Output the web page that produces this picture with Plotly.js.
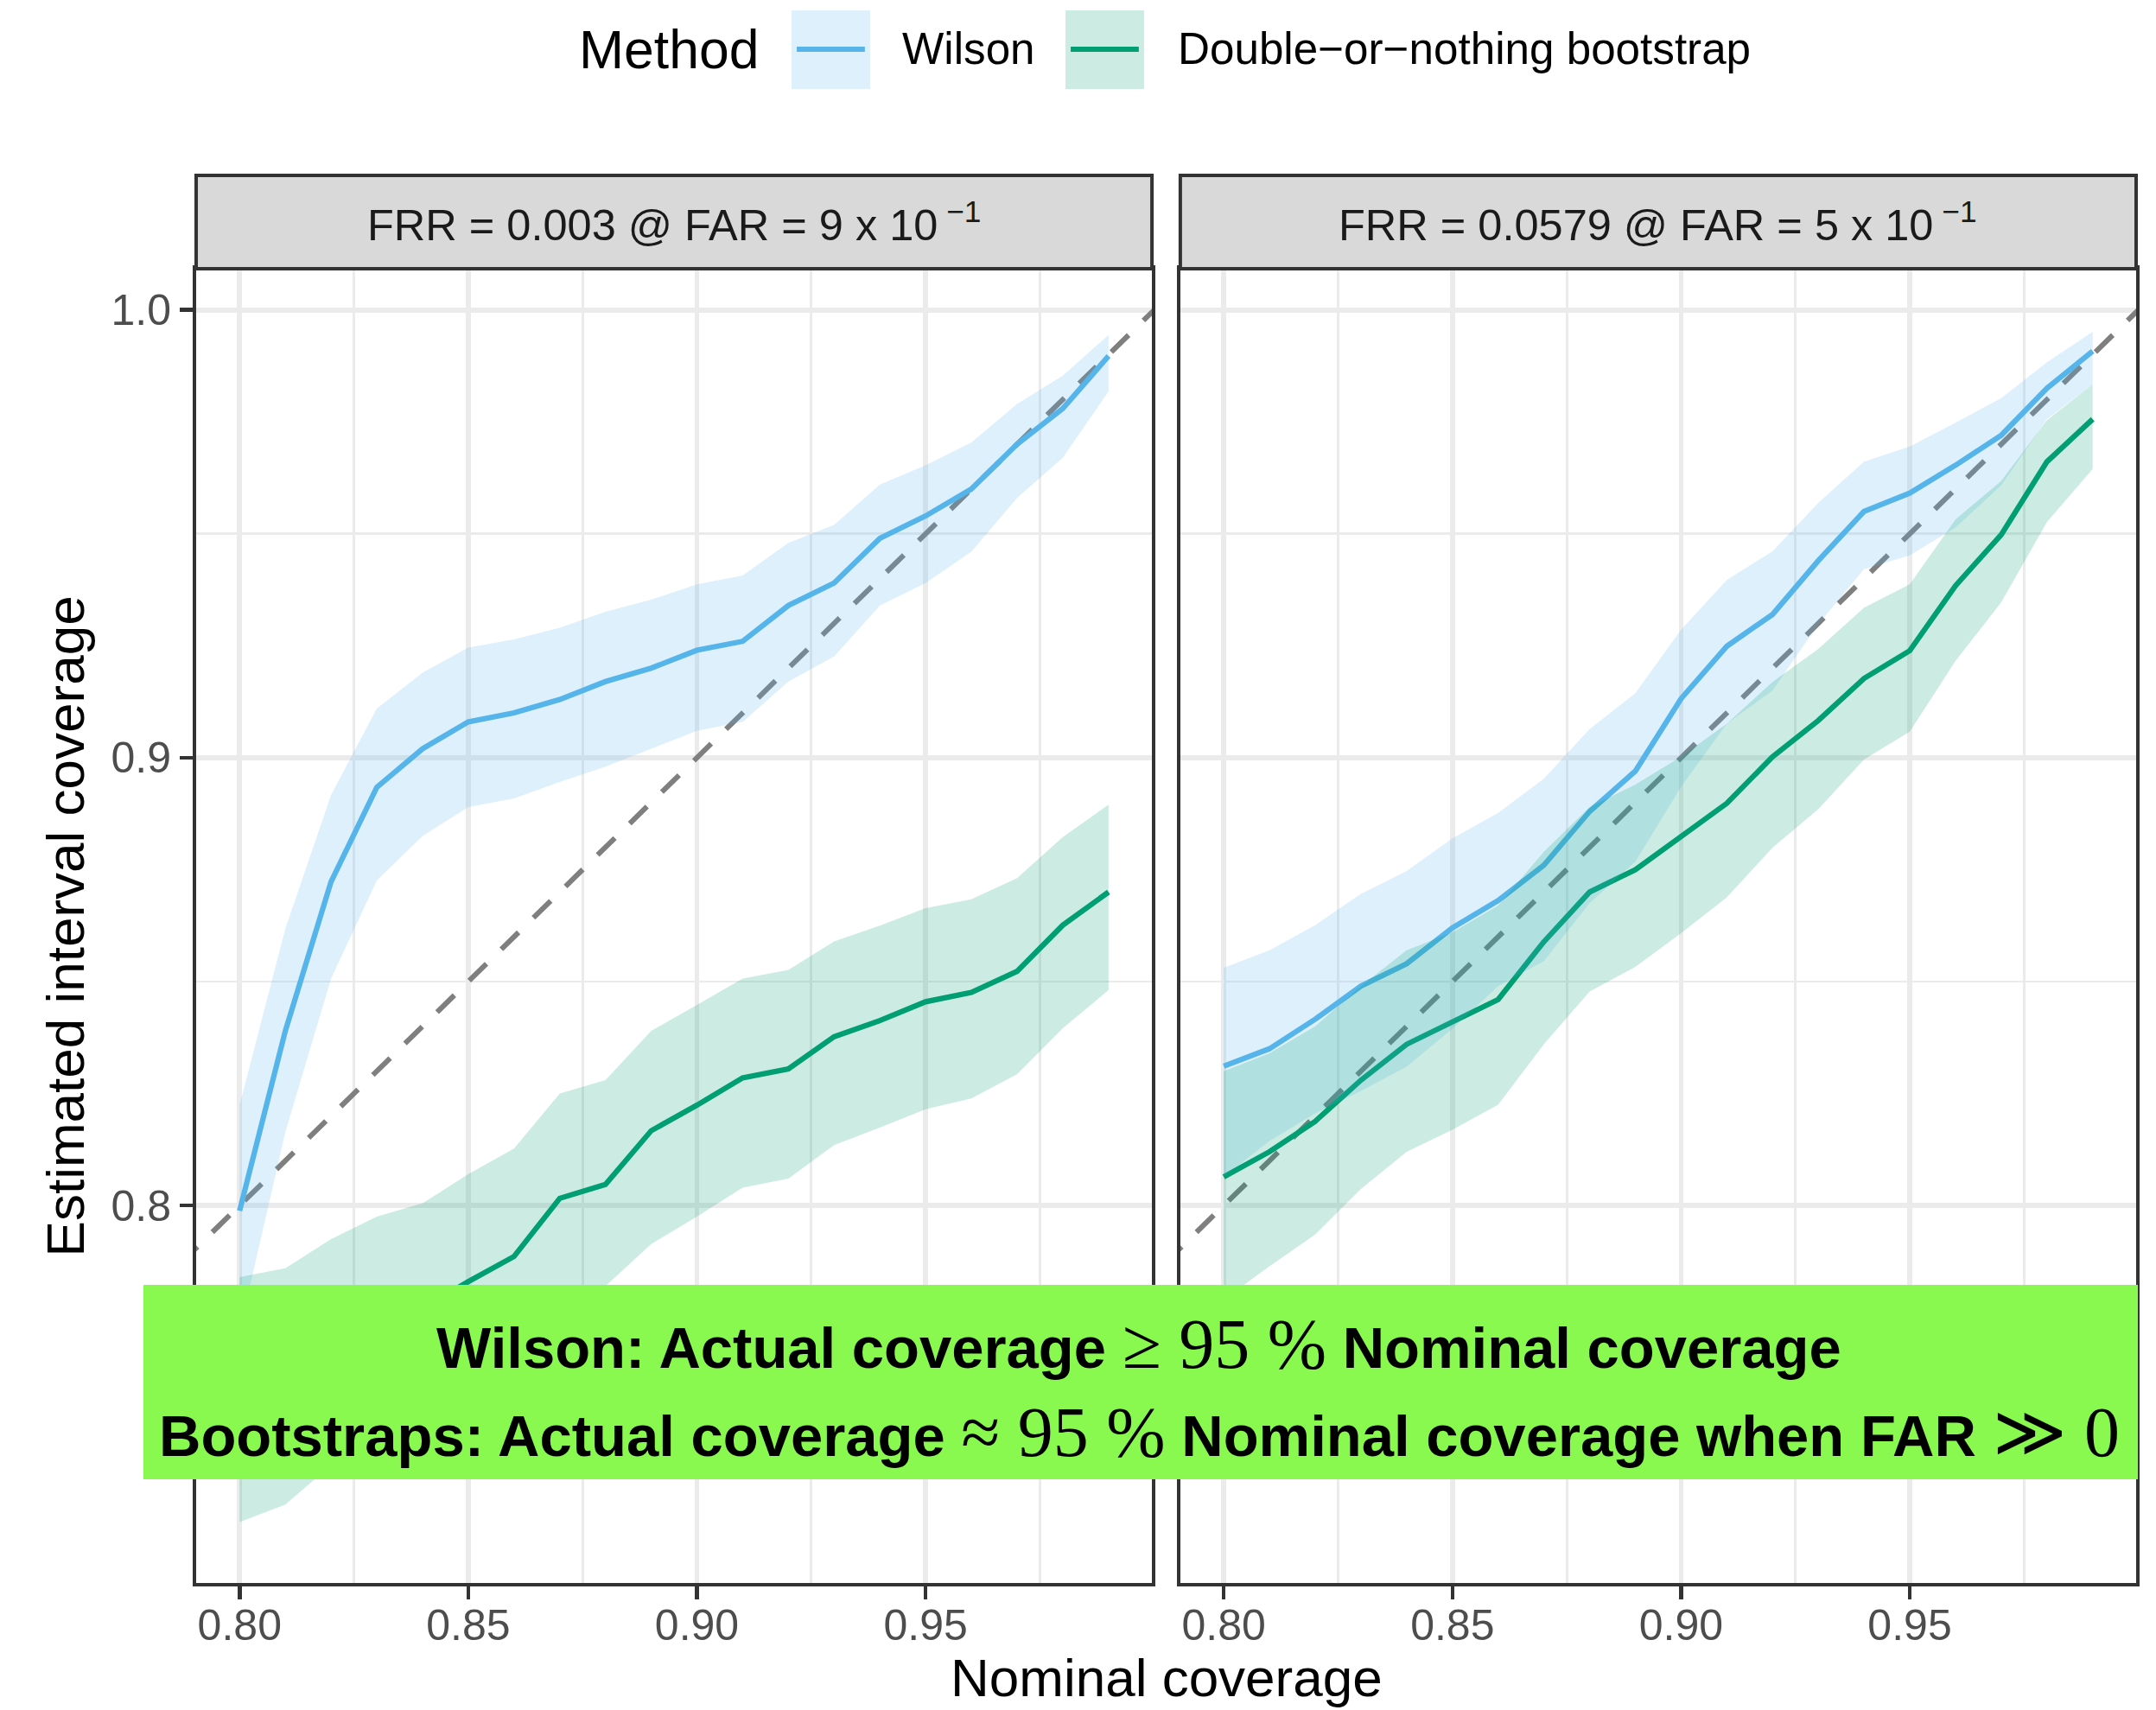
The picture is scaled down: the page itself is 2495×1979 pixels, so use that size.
<!DOCTYPE html>
<html>
<head>
<meta charset="utf-8">
<script src="https://cdn.plot.ly/plotly-3.0.1.min.js"></script>
<style>html,body{margin:0;padding:0;background:#fff;}#chart{width:2495px;height:1979px;}</style>
</head>
<body>
<div id="chart"></div>
<script>
// ---- data ----
const nominal = [0.80,0.81,0.82,0.83,0.84,0.85,0.86,0.87,0.88,0.89,0.90,0.91,0.92,0.93,0.94,0.95,0.96,0.97,0.98,0.99];

const panelTitles = ["FRR = 0.003 @ FAR = 9 x 10<sup> \u22121</sup>", "FRR = 0.0579 @ FAR = 5 x 10<sup> \u22121</sup>"];
const methods = ["Wilson", "Double\u2212or\u2212nothing bootstrap"];

// Panel 1: FRR = 0.003 @ FAR = 9e-1
const wilsonLeft   = [0.7988,0.839,0.8723,0.8934,0.902,0.908,0.910,0.913,0.917,0.920,0.924,0.926,0.934,0.939,0.949,0.954,0.960,0.970,0.978,0.9897];
const wilsonLeftLo = [0.772,0.8164,0.8507,0.8726,0.8825,0.889,0.8909,0.8946,0.898,0.902,0.906,0.908,0.917,0.9226,0.934,0.939,0.946,0.958,0.967,0.9818];
const wilsonLeftHi = [0.8224,0.8618,0.8917,0.911,0.919,0.9246,0.9264,0.929,0.9326,0.9353,0.9387,0.9407,0.948,0.952,0.961,0.9653,0.9704,0.979,0.9853,0.9944];
const bootLeft     = [0.755,0.760,0.766,0.772,0.777,0.783,0.7886,0.8016,0.8047,0.8167,0.8224,0.8285,0.8305,0.8377,0.8413,0.8455,0.8476,0.8523,0.8626,0.870];
const bootLeftLo   = [0.7293,0.7332,0.742,0.750,0.757,0.763,0.770,0.776,0.782,0.7914,0.7975,0.804,0.806,0.8135,0.8174,0.8215,0.8239,0.8293,0.8396,0.8481];
const bootLeftHi   = [0.784,0.786,0.7925,0.7975,0.8005,0.807,0.8127,0.825,0.828,0.839,0.8448,0.8507,0.8526,0.859,0.8625,0.8664,0.8684,0.8731,0.8823,0.8895];

// Panel 2: FRR = 0.0579 @ FAR = 5e-1
const wilsonRight   = [0.8311,0.835,0.8416,0.849,0.854,0.862,0.8681,0.876,0.888,0.897,0.9132,0.9249,0.932,0.944,0.955,0.9591,0.9653,0.972,0.9825,0.9908];
const wilsonRightLo = [0.8064,0.8144,0.8206,0.8256,0.831,0.8395,0.849,0.8546,0.8675,0.8768,0.8935,0.9076,0.915,0.9298,0.9421,0.9452,0.9514,0.9608,0.9756,0.9834];
const wilsonRightHi = [0.8531,0.857,0.8626,0.8696,0.8747,0.882,0.8877,0.8953,0.9064,0.9144,0.9286,0.9397,0.9461,0.9569,0.9661,0.9695,0.9748,0.9803,0.9883,0.9951];
const bootRight     = [0.8064,0.812,0.8188,0.828,0.836,0.841,0.846,0.8589,0.870,0.875,0.8824,0.8898,0.9002,0.9083,0.9177,0.9239,0.9384,0.9498,0.9661,0.9756];
const bootRightLo   = [0.779,0.7864,0.7935,0.8037,0.812,0.8169,0.8225,0.836,0.8478,0.8533,0.8608,0.8688,0.8799,0.8885,0.8996,0.9058,0.9216,0.9347,0.9526,0.9645];
const bootRightHi   = [0.830,0.834,0.840,0.849,0.857,0.861,0.867,0.879,0.889,0.894,0.9002,0.9076,0.9169,0.9243,0.9335,0.9387,0.9532,0.9618,0.9754,0.9834];

// identity reference line (nominal = actual)
const refLine = [0.78, 1.01];

// ---- styling ----
const SANS = "Liberation Sans, Arial, Helvetica, sans-serif";
const colWilson = "#56B4E9", colBoot = "#009E73";
const fillWilson = "rgba(86,180,233,0.2)", fillBoot = "rgba(0,158,115,0.2)";

function ribbon(x, lo, hi, fill, xa, ya) {
  return {x: x.concat(x.slice().reverse()), y: hi.concat(lo.slice().reverse()),
    xaxis: xa, yaxis: ya, type: "scatter", mode: "lines", fill: "toself",
    fillcolor: fill, line: {width: 0, color: "rgba(0,0,0,0)"}, hoverinfo: "skip", showlegend: false};
}
function line(x, y, col, xa, ya, name) {
  return {x: x, y: y, xaxis: xa, yaxis: ya, type: "scatter", mode: "lines", name: name,
    line: {color: col, width: 6.2}, showlegend: false};
}
function refTrace(xa, ya) {
  return {x: refLine, y: refLine, xaxis: xa, yaxis: ya, type: "scatter", mode: "lines",
    line: {color: "#7F7F7F", width: 6, dash: "28px,24px"}, hoverinfo: "skip", showlegend: false};
}

const traces = [
  refTrace("x", "y"),
  line(nominal, wilsonLeft, colWilson, "x", "y", methods[0]),
  line(nominal, bootLeft, colBoot, "x", "y", methods[1]),
  ribbon(nominal, wilsonLeftLo, wilsonLeftHi, fillWilson, "x", "y"),
  ribbon(nominal, bootLeftLo, bootLeftHi, fillBoot, "x", "y"),
  refTrace("x2", "y2"),
  line(nominal, wilsonRight, colWilson, "x2", "y2", methods[0]),
  line(nominal, bootRight, colBoot, "x2", "y2", methods[1]),
  ribbon(nominal, wilsonRightLo, wilsonRightHi, fillWilson, "x2", "y2"),
  ribbon(nominal, bootRightLo, bootRightHi, fillBoot, "x2", "y2")
];

const xRange = [0.7905, 0.9995];
const yRange = [0.7157, 1.0092];

function xAxis(domain, anchor) {
  return {domain: domain, anchor: anchor, range: xRange, tick0: 0.8, dtick: 0.05, tickformat: ".2f",
    ticks: "outside", ticklen: 15, tickwidth: 4.5, tickcolor: "#333333", ticklabelstandoff: -13,
    showline: true, mirror: true, linecolor: "#333333", linewidth: 4,
    showgrid: true, gridcolor: "#EBEBEB", gridwidth: 5.8, zeroline: false,
    minor: {tick0: 0.8, dtick: 0.025, showgrid: true, gridcolor: "#EBEBEB", gridwidth: 2.9},
    tickfont: {family: SANS, size: 50, color: "#4D4D4D"}, fixedrange: true};
}
function yAxis(anchor, labels) {
  return {domain: [0, 1], anchor: anchor, range: yRange, tick0: 0.8, dtick: 0.1, tickformat: ".1f",
    ticks: labels ? "outside" : "", ticklen: 15, tickwidth: 4.5, tickcolor: "#333333",
    showticklabels: labels,
    showline: true, mirror: true, linecolor: "#333333", linewidth: 4,
    showgrid: true, gridcolor: "#EBEBEB", gridwidth: 5.8, zeroline: false,
    minor: {tick0: 0.75, dtick: 0.05, showgrid: true, gridcolor: "#EBEBEB", gridwidth: 2.9},
    tickfont: {family: SANS, size: 50, color: "#4D4D4D"}, fixedrange: true};
}

const stripTop = 1 + 108 / 1521;
const shapes = [];
const annotations = [];
[["x", "y"], ["x2", "y2"]].forEach(function (ax, i) {
  shapes.push({type: "rect", xref: ax[0] + " domain", yref: ax[1] + " domain", x0: 0, x1: 1, y0: 1, y1: stripTop,
    fillcolor: "#D9D9D9", line: {color: "#333333", width: 4}, layer: "above"});
  annotations.push({xref: ax[0] + " domain", yref: ax[1] + " domain", x: 0.5, y: (1 + stripTop) / 2,
    xanchor: "center", yanchor: "middle", showarrow: false, text: panelTitles[i],
    font: {family: SANS, size: 50.5, color: "#1A1A1A"}});
});

// green callout box
shapes.push({type: "rect", xref: "paper", yref: "paper", x0: -0.0272, x1: 1.0009, y0: 0.0789, y1: 0.2268,
  fillcolor: "#8AF94F", line: {width: 0}, layer: "above"});
const m = function (s) { return "<span style=\"font-family:'Liberation Serif',serif;font-size:82px;font-weight:normal\">" + s + "</span>"; };
annotations.push({xref: "paper", yref: "paper", x: 0.486, y: 0.1815, xanchor: "center", yanchor: "middle", showarrow: false,
  text: "<b>Wilson: Actual coverage</b> " + m("\u2265 95 %") + " <b>Nominal coverage</b>",
  font: {family: SANS, size: 67, color: "#000000"}});
annotations.push({xref: "paper", yref: "paper", x: 0.486, y: 0.1144, xanchor: "center", yanchor: "middle", showarrow: false,
  text: "<b>Bootstraps: Actual coverage</b> " + m("\u2248 95 %") + " <b>Nominal coverage when FAR</b> " + m("\u226B 0"),
  font: {family: SANS, size: 67, color: "#000000"}});

// axis titles
annotations.push({xref: "paper", yref: "paper", x: 0.5, y: -0.0717, xanchor: "center", yanchor: "middle", showarrow: false,
  text: "Nominal coverage", font: {family: SANS, size: 62, color: "#000000"}});
annotations.push({xref: "paper", yref: "paper", x: -0.0673, y: 0.5, xanchor: "center", yanchor: "middle", showarrow: false,
  textangle: -90, text: "Estimated interval coverage", font: {family: SANS, size: 62, color: "#000000"}});

// legend (drawn manually, ggplot style)
const legY = 1.167, keyH0 = 1.1367, keyH1 = 1.1966;
const keys = [{x0: 0.3069, x1: 0.3474, fill: "#DDF0FB", col: colWilson, tx: 0.363},
              {x0: 0.4481, x1: 0.4886, fill: "#CCECE3", col: colBoot, tx: 0.5051}];
annotations.push({xref: "paper", yref: "paper", x: 0.1965, y: legY, xanchor: "left", yanchor: "middle", showarrow: false,
  text: "Method", font: {family: SANS, size: 62.5, color: "#000000"}});
keys.forEach(function (k, i) {
  shapes.push({type: "rect", xref: "paper", yref: "paper", x0: k.x0, x1: k.x1, y0: keyH0, y1: keyH1,
    fillcolor: k.fill, line: {width: 0}});
  shapes.push({type: "line", xref: "paper", yref: "paper", x0: k.x0 + 0.0027, x1: k.x1 - 0.0027, y0: legY, y1: legY,
    line: {color: k.col, width: 6}});
  annotations.push({xref: "paper", yref: "paper", x: k.tx, y: legY, xanchor: "left", yanchor: "middle", showarrow: false,
    text: methods[i], font: {family: SANS, size: 51.2, color: "#000000"}});
});

const layout = {
  width: 2495, height: 1979,
  margin: {l: 227, r: 23, t: 311, b: 147, pad: 0},
  paper_bgcolor: "#FFFFFF", plot_bgcolor: "#FFFFFF",
  showlegend: false,
  font: {family: SANS, size: 50, color: "#000000"},
  xaxis: xAxis([0, 0.4927], "y"),
  xaxis2: xAxis([0.5073, 1], "y2"),
  yaxis: yAxis("x", true),
  yaxis2: Object.assign(yAxis("x2", false), {matches: "y"}),
  shapes: shapes,
  annotations: annotations
};

Plotly.newPlot("chart", traces, layout, {staticPlot: true, displayModeBar: false});
</script>
</body>
</html>
